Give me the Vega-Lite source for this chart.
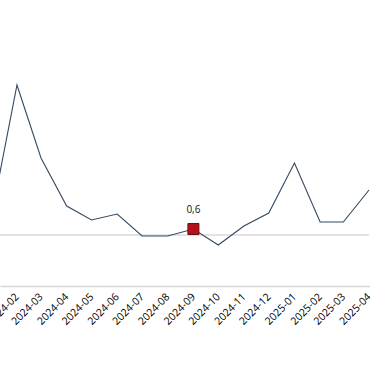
{
  "$schema": "https://vega.github.io/schema/vega-lite/v6.json",
  "width": 370,
  "height": 286,
  "autosize": {"type": "none"},
  "padding": {"left": 0, "top": 0, "right": 0, "bottom": 94},
  "background": "white",
  "config": {"view": {"stroke": null}},
  "data": {
    "values": [
      {"month": "2024-01-01", "value": 1.8},
      {"month": "2024-02-01", "value": 15.0},
      {"month": "2024-03-01", "value": 7.7},
      {"month": "2024-04-01", "value": 2.9},
      {"month": "2024-05-01", "value": 1.5},
      {"month": "2024-06-01", "value": 2.1},
      {"month": "2024-07-01", "value": -0.1},
      {"month": "2024-08-01", "value": -0.1},
      {"month": "2024-09-01", "value": 0.6},
      {"month": "2024-10-01", "value": -1.0},
      {"month": "2024-11-01", "value": 0.9},
      {"month": "2024-12-01", "value": 2.2},
      {"month": "2025-01-01", "value": 7.2},
      {"month": "2025-02-01", "value": 1.3},
      {"month": "2025-03-01", "value": 1.3},
      {"month": "2025-04-01", "value": 4.5}
    ]
  },
  "encoding": {
    "x": {
      "field": "month",
      "type": "temporal",
      "scale": {
        "type": "utc",
        "domain": [
          {"year": 2024, "month": 1, "date": 11, "hours": 12, "utc": true},
          {"year": 2025, "month": 4, "date": 2, "hours": 5, "utc": true}
        ]
      },
      "axis": {
        "title": null,
        "labelExpr": "utcFormat(datum.value, '%Y-%m')",
        "tickCount": {"interval": "month", "step": 1},
        "labelAngle": -45,
        "labelAlign": "right",
        "labelBaseline": "middle",
        "labelPadding": 9,
        "labelFont": "Open Sans",
        "labelFontSize": 10.5,
        "labelColor": "#000",
        "labelOverlap": false,
        "labelBound": false,
        "labelFlush": false,
        "ticks": false,
        "grid": false,
        "domainColor": "#d6d6d6",
        "domainWidth": 1.5
      }
    },
    "y": {
      "field": "value",
      "type": "quantitative",
      "scale": {"domain": [-5.1, 23.5], "nice": false, "zero": false},
      "axis": null
    }
  },
  "layer": [
    {
      "mark": {"type": "line", "color": "#c8c8c8", "strokeWidth": 1, "clip": true},
      "encoding": {"y": {"datum": 0, "type": "quantitative"}}
    },
    {
      "mark": {"type": "line", "color": "#34495e", "strokeWidth": 1.1, "clip": true}
    },
    {
      "data": {"values": [{"month": "2024-09-01", "value": 0.6, "label": "0,6"}]},
      "mark": {"type": "point", "shape": "square", "size": 121, "filled": true, "fill": "#b3141c", "stroke": "#6e0b0f", "strokeWidth": 1, "opacity": 1}
    },
    {
      "data": {"values": [{"month": "2024-09-01", "value": 0.6, "label": "0,6"}]},
      "mark": {"type": "text", "dy": -19, "font": "Open Sans", "fontSize": 10, "color": "#111", "baseline": "middle"},
      "encoding": {"text": {"field": "label"}}
    }
  ]
}
